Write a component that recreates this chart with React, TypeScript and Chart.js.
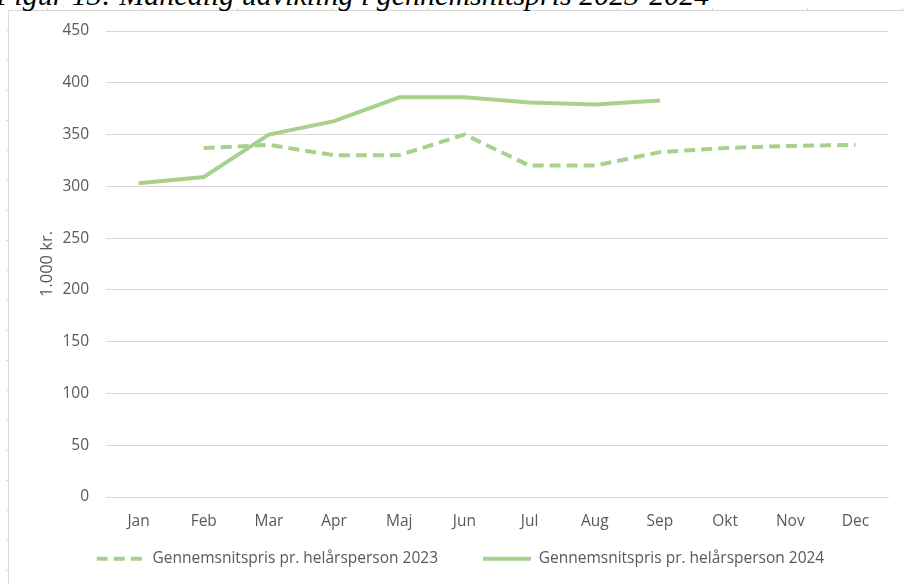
import React, { useEffect, useRef } from "react";
import { Chart, registerables } from "chart.js";

Chart.register(...registerables);

const months = ["Jan", "Feb", "Mar", "Apr", "Maj", "Jun", "Jul", "Aug", "Sep", "Okt", "Nov", "Dec"];
const price2023: (number | null)[] = [null, 337, 340, 330, 330, 350, 320, 320, 333, 337, 339, 340];
const price2024: (number | null)[] = [303, 309, 350, 363, 386, 386, 381, 379, 383, null, null, null];
const label2023 = "Gennemsnitspris pr. helårsperson 2023";
const label2024 = "Gennemsnitspris pr. helårsperson 2024";
const yTicksMax = 450;
const yStep = 50;
const yTitle = "1.000 kr.";
const titleText = "Figur 13: Månedlig udvikling i gennemsnitspris 2023-2024";

const GREEN = "#A9D18E";
const GRID = "#D9D9D9";
const TEXT = "#595959";
const FONT = "'Open Sans', 'Noto Sans', sans-serif";
const FS = 15.5;

export default function App() {
  const ref = useRef<HTMLCanvasElement | null>(null);

  useEffect(() => {
    if (!ref.current) return;
    const chart = new Chart(ref.current, {
      type: "line",
      data: {
        labels: months,
        datasets: [
          {
            label: label2023,
            data: price2023,
            borderColor: GREEN,
            backgroundColor: GREEN,
            borderWidth: 4,
            borderDash: [11, 6],
            pointRadius: 0,
            tension: 0,
            spanGaps: false,
          },
          {
            label: label2024,
            data: price2024,
            borderColor: GREEN,
            backgroundColor: GREEN,
            borderWidth: 4,
            pointRadius: 0,
            tension: 0,
            spanGaps: false,
          },
        ],
      },
      options: {
        animation: false,
        responsive: false,
        maintainAspectRatio: false,
        layout: { padding: { left: 33, right: 16, top: 31, bottom: 7.5 } },
        plugins: {
          tooltip: { enabled: false },
          legend: {
            position: "bottom",
            labels: {
              usePointStyle: true,
              pointStyle: "line",
              pointStyleWidth: 48,
              padding: 45,
              color: TEXT,
              font: { family: FONT, size: FS },
              generateLabels: (c: any) => {
                const items = (Chart.defaults as any).plugins.legend.labels.generateLabels(c);
                return items.map((it: any) => ({
                  ...it,
                  lineDash: c.data.datasets[it.datasetIndex].borderDash || [],
                  lineWidth: 4,
                  strokeStyle: GREEN,
                  fillStyle: GREEN,
                }));
              },
            },
          },
        },
        scales: {
          x: {
            offset: true,
            grid: { display: false, drawTicks: false },
            border: { display: true, color: GRID, width: 1 },
            ticks: {
              color: TEXT,
              font: { family: FONT, size: FS },
              padding: -34,
              mirror: true,
              maxRotation: 0,
              autoSkip: false,
            },
            afterFit: (s: any) => {
              s.height = 9;
            },
          },
          y: {
            min: 0,
            max: yTicksMax,
            grid: { color: GRID, lineWidth: 1, drawTicks: false },
            border: { display: false },
            ticks: { stepSize: yStep, color: TEXT, font: { family: FONT, size: FS }, padding: 17 },
            title: {
              display: true,
              text: yTitle,
              color: TEXT,
              font: { family: FONT, size: 16.5 },
              padding: { top: 4, bottom: 0 },
            },
            afterFit: (s: any) => {
              s.width = 73;
            },
          },
        },
      },
    });
    return () => chart.destroy();
  }, []);

  const leftTicks = Array.from({ length: 20 }, (_, i) => 30 + i * 30);
  const topTicks = Array.from({ length: 10 }, (_, i) => 47 + i * 95);

  return (
    <div style={{ position: "absolute", left: 0, top: 0, width: 904, height: 584, overflow: "hidden", background: "#fff" }}>
      <div
        style={{
          position: "absolute",
          left: 8,
          top: 10,
          width: 1000,
          height: 1000,
          borderLeft: `1px solid ${GRID}`,
          borderTop: `1px solid ${GRID}`,
        }}
      />
      {leftTicks.map((y) => (
        <div key={"l" + y} style={{ position: "absolute", left: 6, top: y, width: 2, height: 1, background: GRID }} />
      ))}
      {topTicks.map((x) => (
        <div key={"t" + x} style={{ position: "absolute", left: x, top: 8, width: 1, height: 2, background: GRID }} />
      ))}
      <div
        style={{
          position: "absolute",
          left: -4,
          top: -20,
          whiteSpace: "nowrap",
          fontFamily: "'Liberation Serif', 'DejaVu Serif', serif",
          fontStyle: "italic",
          fontSize: 30,
          lineHeight: "30px",
          color: "#000",
        }}
      >
        {titleText}
      </div>
      <canvas ref={ref} width={904} height={584} style={{ position: "absolute", left: 0, top: 0 }} />
    </div>
  );
}
